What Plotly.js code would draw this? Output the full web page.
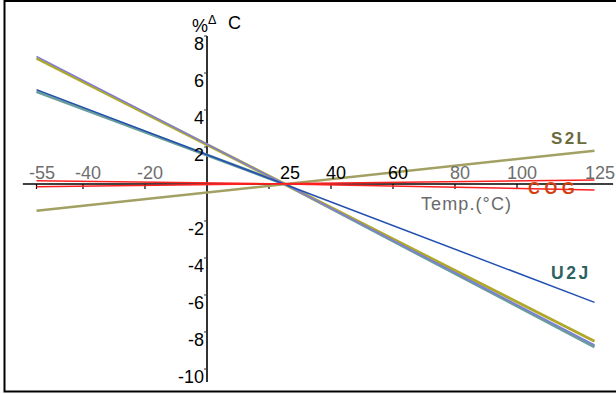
<!DOCTYPE html>
<html><head><meta charset="utf-8">
<script src="https://cdn.plot.ly/plotly-3.0.1.min.js"></script>
<style>html,body{margin:0;padding:0;background:#fff}</style>
</head><body><div id="chart" style="width:616px;height:394px"></div>
<script>
// ---- data ----
const temps = [-55, 25, 125];
const lavenderY = [6.9, 0, -8.7];
const oliveY = [6.8, 0, -8.5];
const blueY = [5.1, 0, -6.4];
const tealY = [5.0, 0, -8.8];
const s2lY = [-1.45, 0, 1.8];
const cogUpperY = [0.18, 0, -0.32];
const cogLowerY = [-0.15, 0, 0.22];
const xTickVals = [-55, -40, -20, 20, 40, 60, 80, 100];
const xLabelVals = [-55, -40, -20, 25, 40, 60, 80, 100, 125];
const xLabelText = ['-55', '-40', '-20', '25', '40', '60', '80', '100', '125'];
const xLabelDark = [false, false, false, true, true, true, false, false, false];
const yTickVals = [8, 6, 4, 2, -2, -4, -6, -8, -10];
const yLabelText = ['8', '6', '4', '2', '-2', '-4', '-6', '-8', '-10'];

// ---- layout geometry ----
const W = 616, H = 394;
const x0px = 207, pxPerX = 3.1, y0px = 184, pxPerY = 18.5;
const xRange = [-x0px / pxPerX, (W - x0px) / pxPerX];
const yRange = [-(H - y0px) / pxPerY, y0px / pxPerY];
const FONT = 'Liberation Sans, Arial, sans-serif';

function line(y, color, width, name) {
  return {x: temps, y: y, mode: 'lines', name: name, line: {color: color, width: width}, hoverinfo: 'skip'};
}
const traces = [
  line(tealY, '#6a9c9c', 3, 'teal'),
  line(oliveY, '#b0a82a', 3, 'olive'),
  line(lavenderY, '#7c7ce0', 1.5, 'lavender'),
  line(blueY, '#2250b0', 1.5, 'U2J'),
  line(s2lY, '#a2a062', 2.5, 'S2L'),
  line(cogUpperY, '#ff2020', 1.5, 'COG+'),
  line(cogLowerY, '#ff2020', 1.5, 'COG-')
];

const shapes = [
  {type: 'rect', xref: 'paper', yref: 'paper', x0: 4.5 / W, x1: 1.05, y0: 1 - 391.5 / H, y1: 1 - 1 / H,
   line: {color: '#000', width: 2}, layer: 'below'},
  {type: 'line', xref: 'x', yref: 'y', x0: -59.4, x1: 131, y0: 0, y1: 0, line: {color: '#000', width: 1.5}, layer: 'below'},
  {type: 'line', xref: 'x', yref: 'y', x0: 0, x1: 0, y0: 8, y1: -10.7, line: {color: '#333', width: 2}, layer: 'below'}
];
xTickVals.forEach(v => shapes.push({type: 'line', xref: 'x', yref: 'y', x0: v, x1: v, y0: 0, y1: -5 / pxPerY,
  line: {color: '#000', width: 1.2}, layer: 'below'}));
yTickVals.forEach(v => shapes.push({type: 'line', xref: 'x', yref: 'y', x0: -3 / pxPerX, x1: 0, y0: v, y1: v,
  line: {color: '#333', width: 1}, layer: 'below'}));

const annotations = [];
const spacing = {};
xLabelVals.forEach((v, i) => annotations.push({
  x: v, y: 0, xref: 'x', yref: 'y', text: xLabelText[i], showarrow: false,
  xanchor: 'center', yanchor: 'bottom', xshift: 5, yshift: -1,
  font: {family: FONT, size: 18, color: xLabelDark[i] ? '#000' : '#6e6e6e'}
}));
yTickVals.forEach((v, i) => annotations.push({
  x: 0, y: v, xref: 'x', yref: 'y', text: yLabelText[i], showarrow: false,
  xanchor: 'right', yanchor: 'top', xshift: -1, yshift: 4,
  font: {family: FONT, size: 18, color: '#000'}
}));
// title pieces
annotations.push({x: 190 / W, y: 1 - 11 / H, xref: 'paper', yref: 'paper', text: '%<sup>Δ</sup>', showarrow: false,
  xanchor: 'left', yanchor: 'top', align: 'left', font: {family: FONT, size: 18, color: '#000'}});
annotations.push({x: 226 / W, y: 1 - 11 / H, xref: 'paper', yref: 'paper', text: 'C', showarrow: false,
  xanchor: 'left', yanchor: 'top', align: 'left', font: {family: FONT, size: 18, color: '#000'}});
// axis title
spacing[annotations.length] = 1.1;
annotations.push({x: 419 / W, y: 1 - 192 / H, xref: 'paper', yref: 'paper', text: 'Temp.(°C)', showarrow: false,
  xanchor: 'left', yanchor: 'top', align: 'left', font: {family: FONT, size: 18, color: '#6a6a6a'}});
// series labels
function seriesLabel(text, px, py, color, size, ls) {
  spacing[annotations.length] = ls;
  annotations.push({x: px / W, y: 1 - py / H, xref: 'paper', yref: 'paper', text: '<b>' + text + '</b>', showarrow: false,
    xanchor: 'left', yanchor: 'top', align: 'left', font: {family: FONT, size: size, color: color}});
}
seriesLabel('S2L', 549, 127, '#6b6b3c', 17, 2.4);
seriesLabel('COG', 526, 177, '#d2400f', 16.5, 4.5);
seriesLabel('U2J', 549, 261, '#2e6262', 17.5, 2.6);

const layout = {
  width: W, height: H, margin: {l: 0, r: 0, t: 0, b: 0},
  paper_bgcolor: '#fff', plot_bgcolor: '#fff', showlegend: false,
  xaxis: {range: xRange, visible: false, fixedrange: true},
  yaxis: {range: yRange, visible: false, fixedrange: true},
  shapes: shapes, annotations: annotations
};

Plotly.newPlot('chart', traces, layout, {staticPlot: true, displayModeBar: false}).then(() => {
  Object.keys(spacing).forEach(i => {
    const t = document.querySelector('.annotation[data-index="' + i + '"] text');
    if (t) t.style.letterSpacing = spacing[i] + 'px';
  });
});
</script></body></html>
